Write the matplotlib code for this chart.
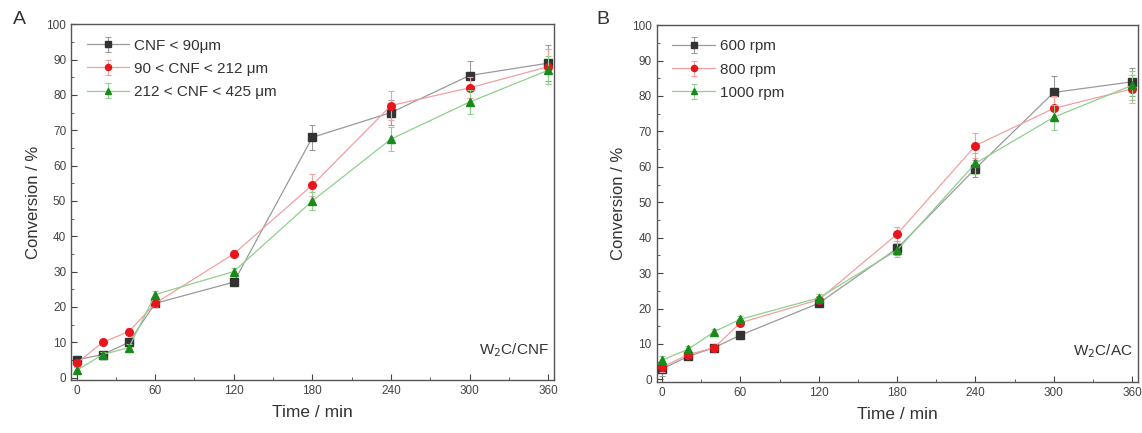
import matplotlib
matplotlib.use("Agg")
import matplotlib.pyplot as plt
from matplotlib.ticker import MultipleLocator

plt.rcParams['font.family'] = ['Liberation Sans', 'DejaVu Sans']

time = [0, 20, 40, 60, 120, 180, 240, 300, 360]

# Panel A: W2C/CNF, particle size
a_labels = ["CNF < 90\u03bcm", "90 < CNF < 212 \u03bcm", "212 < CNF < 425 \u03bcm"]
a_black = [5, 6.5, 10, 21, 27, 68, 75, 85.5, 89]
a_red = [4, 10, 13, 21, 35, 54.5, 77, 82, 88]
a_green = [2, 6.5, 8.5, 23.5, 30, 50, 67.5, 78, 87]
a_black_err = [1, 0.8, 1, 1, 1, 3.5, 3.5, 4, 5]
a_red_err = [1, 0.8, 1, 1, 1, 3, 4, 3, 5]
a_green_err = [1, 0.8, 1, 1, 1, 2.5, 3.5, 3.5, 4]

# Panel B: W2C/AC, stirring rate
b_labels = ["600 rpm", "800 rpm", "1000 rpm"]
b_black = [3, 6.5, 9, 12.5, 21.5, 37, 59.5, 81, 84]
b_red = [3.5, 7, 9, 16, 22.5, 41, 66, 76.5, 82]
b_green = [5.5, 8.5, 13.5, 17, 23, 36.5, 61, 74, 83]
b_black_err = [2, 0.8, 0.8, 1, 1, 2, 2.5, 4.5, 4]
b_red_err = [1.5, 0.8, 0.8, 1, 1, 2, 3.5, 3.5, 4]
b_green_err = [1, 0.8, 0.8, 1, 1, 2, 3, 3.5, 4]

mk_colors = ["#333333", "#e8151b", "#1a8a1a"]
ln_colors = ["#9a9a9a", "#f2a0a0", "#8fd08f"]
markers = ["s", "o", "^"]

fig = plt.figure(figsize=(11.42, 4.33), dpi=100)
axA = fig.add_axes([0.0622, 0.1224, 0.423, 0.8215])
axB = fig.add_axes([0.575, 0.118, 0.4215, 0.824])


def draw(ax, series, errs, labels, tag):
    for i, (y, e, lab) in enumerate(zip(series, errs, labels)):
        ax.errorbar(time, y, yerr=e, color=ln_colors[i], ecolor=ln_colors[i],
                    elinewidth=0.8, capsize=2, capthick=0.8, lw=0.9,
                    marker=markers[i], ms=5.5, mfc=mk_colors[i], mec=mk_colors[i],
                    label=lab, zorder=3 + i)
    ax.set_xlim(-4.2, 364.5)
    ax.set_ylim(-0.7, 100)
    ax.xaxis.set_major_locator(MultipleLocator(60))
    ax.xaxis.set_minor_locator(MultipleLocator(30))
    ax.yaxis.set_major_locator(MultipleLocator(10))
    ax.yaxis.set_minor_locator(MultipleLocator(5))
    ax.tick_params(which='both', direction='in', labelsize=8.5, colors='#444444',
                   labelcolor='#444444')
    ax.tick_params(which='major', length=4, width=0.8)
    ax.tick_params(which='minor', length=2, width=0.6)
    for sp in ax.spines.values():
        sp.set_color('#555555')
        sp.set_linewidth(1.0)
    ax.set_xlabel("Time / min", fontsize=12.5, color='#333333', labelpad=6)
    ax.set_ylabel("Conversion / %", fontsize=12, color='#333333', labelpad=4)
    leg = ax.legend(loc='upper left', bbox_to_anchor=(0.01, 0.99), frameon=False,
                    fontsize=11, handlelength=2.8, handletextpad=0.3,
                    labelspacing=0.6, borderaxespad=0.3, markerscale=0.8)
    for t in leg.get_texts():
        t.set_color('#333333')
    ax.text(0.988, 0.085, tag, transform=ax.transAxes, ha='right', va='center',
            fontsize=11, color='#333333')


draw(axA, [a_black, a_red, a_green], [a_black_err, a_red_err, a_green_err],
     a_labels, "W$_2$C/CNF")
draw(axB, [b_black, b_red, b_green], [b_black_err, b_red_err, b_green_err],
     b_labels, "W$_2$C/AC")

fig.text(0.011, 0.955, "A", fontsize=14, color='#333333', va='center')
fig.text(0.522, 0.955, "B", fontsize=14, color='#333333', va='center')

fig.savefig("out.png", dpi=100)
